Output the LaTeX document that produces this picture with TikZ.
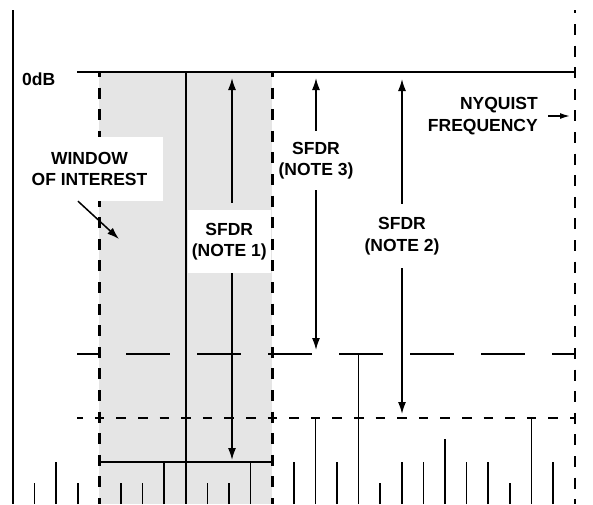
\documentclass[tikz,border=0pt]{standalone}
\usepackage{fontspec}
\setmainfont{Liberation Sans}
\usetikzlibrary{arrows.meta}

\begin{document}
\begin{tikzpicture}
	[
		x=1pt, y=-1pt,
		ln/.style = {line width=1.5pt},
		L/.style  = {rectangle, align=center, draw=none, fill=none, inner sep=0pt,
			font=\fontsize{17.5}{21.5}\selectfont\bfseries},
		B/.style  = {L, fill=white},
		A/.style  = {-{Latex[length=12pt,width=8pt]}, line width=1.5pt},
		As/.style = {-{Latex[length=10pt,width=6pt]}, line width=1.5pt},
		W/.style  = {line width=2.6pt, dash pattern=on 11pt off 10.6pt, dash phase=6pt},
	]

	\useasboundingbox (0,0) rectangle (593,504);

	% window of interest
	\fill[black!10] (99.4,72) rectangle (272.2,504);

	% axis and nyquist line
	\draw[ln] (13,10) -- (13,504);
	\draw[line width=2pt, dash pattern=on 11pt off 10.6pt, dash phase=7.6pt] (574.6,10) -- (574.6,504);

	% levels
	\draw[ln] (77,72) -- (574.6,72);
	\draw[ln, dash pattern=on 44pt off 27pt, dash phase=22pt] (77,354) -- (574.6,354);
	\draw[ln, dash pattern=on 9.5pt off 12.1pt, dash phase=3.75pt] (77,418) -- (574.6,418);
	\draw[ln] (99.4,462) -- (272.2,462);

	% fundamental and spurs
	\draw[ln] (185.8,72) -- (185.8,504);
	\foreach \i/\top in {1/483,2/462,3/483,5/483,6/483,7/462,9/483,10/483,11/462,
		13/462,14/418,15/462,16/354,17/483,18/462,19/462,20/439,21/462,22/462,
		23/483,24/418,25/462}
	\draw[ln] (13+21.6*\i,504) -- (13+21.6*\i,\top);

	% window border
	\draw[W] (99.4,72) -- (99.4,504);
	\draw[W] (99.4,72) -- (272.2,72) -- (272.2,504);

	% labels
	\node[L, anchor=west] (odb) at (22,79) {0dB};
	\node[B, minimum width=147pt, minimum height=64pt] (win) at (89.5,169) {WINDOW\\OF INTEREST};
	\node[B, minimum width=82.5pt, minimum height=63pt] (n1) at (229.3,241.5) {SFDR\\(NOTE 1)};
	\node[L, minimum height=59pt] (n3) at (316,160.5) {SFDR\\(NOTE 3)};
	\node[L, minimum height=64pt] (n2) at (402,236) {SFDR\\(NOTE 2)};
	\node[L, align=right, anchor=east] (nyq) at (538,116) {NYQUIST\\FREQUENCY};

	% arrow tips
	\coordinate (t1up) at (232,78);
	\coordinate (t1dn) at (232,460);
	\coordinate (t3up) at (316,78);
	\coordinate (t3dn) at (316,350);
	\coordinate (t2up) at (402,79);
	\coordinate (t2dn) at (402,414);
	\coordinate (wtip) at (119,239);
	\coordinate (nyqtip) at (570,116);

	\draw[A, shorten <=7pt] (n1.north -| t1up) -- (t1up);
	\draw[A] (n1.south -| t1dn) -- (t1dn);
	\foreach \from/\to in {n3.north/t3up,n3.south/t3dn,n2.north/t2up,n2.south/t2dn}
	\draw[A] (\from) -- (\to);
	\draw[A] ([xshift=-11.5pt]win.south) -- (wtip);
	\draw[As, shorten <=10pt] (nyq.east) -- (nyqtip);

\end{tikzpicture}
\end{document}
